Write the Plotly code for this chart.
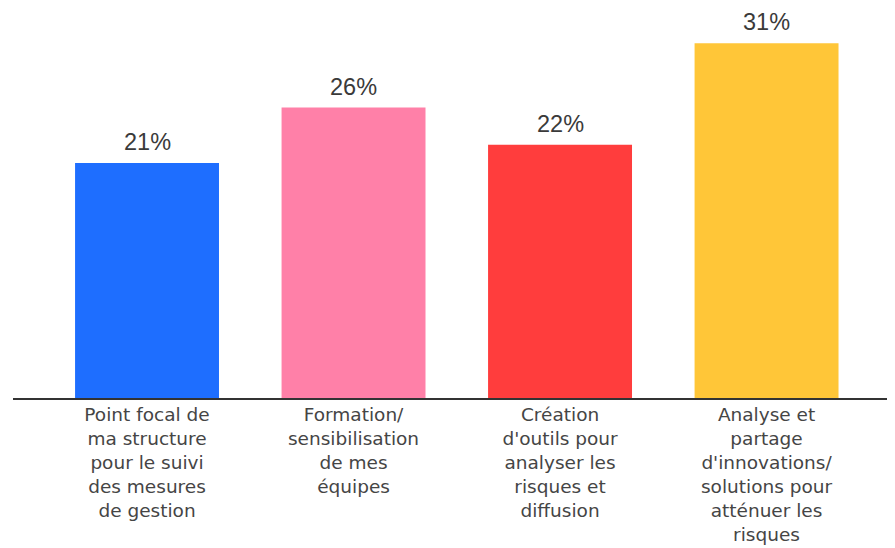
import plotly.graph_objects as go

categories = [
    "Point focal de<br>ma structure<br>pour le suivi<br>des mesures<br>de gestion",
    "Formation/<br>sensibilisation<br>de mes<br>équipes",
    "Création<br>d'outils pour<br>analyser les<br>risques et<br>diffusion",
    "Analyse et<br>partage<br>d'innovations/<br>solutions pour<br>atténuer les<br>risques",
]
values = [20.8, 25.7, 22.4, 31.4]
labels = ["21%", "26%", "22%", "31%"]
colors = ["#1E6EFF", "#FF80A8", "#FF3D3D", "#FFC638"]

x_pos = list(range(len(categories)))

fig = go.Figure(
    go.Bar(
        x=x_pos,
        y=values,
        marker=dict(color=colors, line=dict(width=0)),
        width=0.697,
        cliponaxis=False,
    )
)

for xi, v, lab in zip(x_pos, values, labels):
    fig.add_annotation(
        x=xi, y=v, text=lab, showarrow=False,
        xanchor="center", yanchor="bottom", yshift=6,
        font=dict(size=23.5, color="#3a3a3a", family="Liberation Sans"),
    )

fig.update_layout(
    width=887,
    height=540,
    margin=dict(l=5, r=0, t=0, b=150, autoexpand=False),
    paper_bgcolor="white",
    plot_bgcolor="white",
    showlegend=False,
    font=dict(family="DejaVu Sans", color="#454545"),
    xaxis=dict(
        range=[-0.649, 3.622],
        tickmode="array",
        tickvals=x_pos,
        ticktext=categories,
        tickfont=dict(size=18.5, color="#454545", family="DejaVu Sans"),
        ticklabelstandoff=-1,
        showline=True,
        linecolor="#333333",
        linewidth=2,
        showgrid=False,
        zeroline=False,
        ticks="",
        automargin=False,
    ),
    yaxis=dict(
        range=[0, 34.51],
        visible=False,
        showgrid=False,
        zeroline=False,
    ),
)

fig.write_html("out.html")
